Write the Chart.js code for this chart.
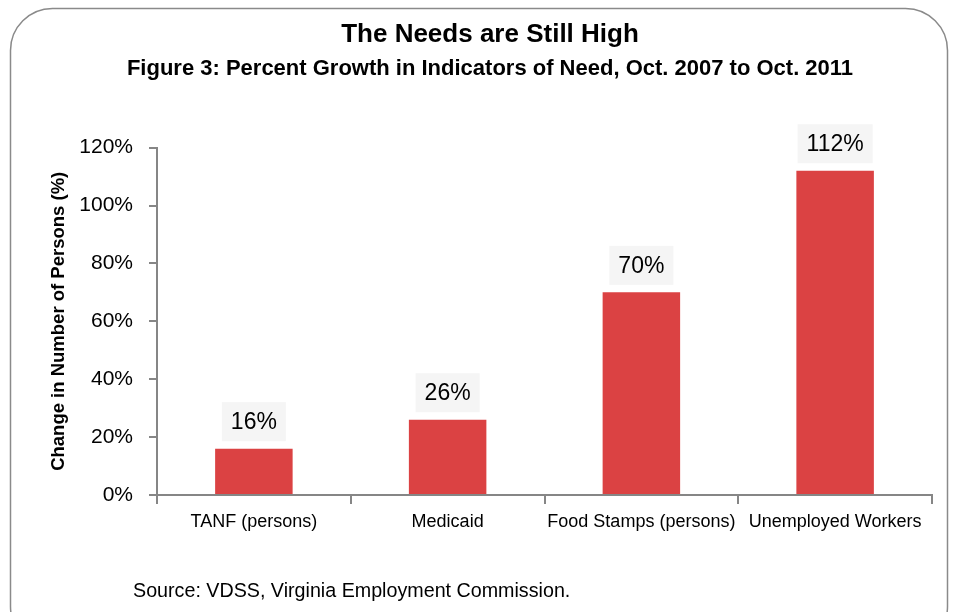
<!DOCTYPE html>
<html>
<head>
<meta charset="utf-8">
<script src="https://cdn.jsdelivr.net/npm/chart.js@4"></script>
<style>
  body { margin: 0; background: #fff; }
  #wrap { width: 956px; height: 612px; }
</style>
</head>
<body>
<div id="wrap"><canvas id="myChart" width="956" height="612"></canvas></div>
<script>
// data
var categories = ['TANF (persons)', 'Medicaid', 'Food Stamps (persons)', 'Unemployed Workers'];
var growthPct = [16, 26, 70, 112];
var yTicks = [0, 20, 40, 60, 80, 100, 120];

var narrow = "'Liberation Sans Narrow', 'Arial Narrow', 'Liberation Sans', Arial, sans-serif";
var barColor = '#DB4243';
var axisColor = '#868686';

// rounded frame behind everything + source line
const framePlugin = {
    id: 'frame',
    beforeDraw(chart) {
        const ctx = chart.ctx;
        ctx.save();
        ctx.fillStyle = '#fff';
        ctx.fillRect(0, 0, chart.width, chart.height);
        ctx.strokeStyle = '#8a8a8a';
        ctx.lineWidth = 1.5;
        ctx.beginPath();
        ctx.roundRect(10.5, 8.5, 937, 640, 42);
        ctx.stroke();
        ctx.restore();
    },
    afterDraw(chart) {
        const ctx = chart.ctx;
        ctx.save();
        ctx.fillStyle = '#000';
        ctx.font = '19.7px ' + narrow;
        ctx.textBaseline = 'middle';
        ctx.fillText('Source: VDSS, Virginia Employment Commission.', 133, 592);
        ctx.restore();
    }
};

// value labels on gray boxes above each bar
const valueLabels = {
    id: 'valueLabels',
    afterDatasetsDraw(chart) {
        const ctx = chart.ctx;
        const meta = chart.getDatasetMeta(0);
        ctx.save();
        ctx.font = '23px ' + narrow;
        ctx.textAlign = 'center';
        ctx.textBaseline = 'middle';
        meta.data.forEach(function(bar, i) {
            const txt = growthPct[i] + '%';
            const w = ctx.measureText(txt).width + 18;
            const cy = bar.y - 27;
            ctx.fillStyle = '#f5f5f5';
            ctx.fillRect(bar.x - w / 2, cy - 19.5, w, 39);
            ctx.fillStyle = '#000';
            ctx.fillText(txt, bar.x, cy + 1);
        });
        ctx.restore();
    }
};

var myChart = new Chart(document.getElementById('myChart'), {
    type: 'bar',
    data: {
        labels: categories,
        datasets: [{
            data: growthPct,
            backgroundColor: barColor,
            borderWidth: 0,
            categoryPercentage: 0.8,
            barPercentage: 0.5
        }]
    },
    options: {
        responsive: false,
        animation: false,
        layout: { padding: { left: 48, right: 24, top: 0, bottom: 0 } },
        plugins: {
            legend: { display: false },
            tooltip: { enabled: false },
            title: {
                display: true,
                text: 'The Needs are Still High',
                color: '#000',
                font: { family: narrow, size: 26, weight: 'bold', lineHeight: 1.2 },
                padding: { top: 19, bottom: 2 }
            },
            subtitle: {
                display: true,
                text: 'Figure 3: Percent Growth in Indicators of Need, Oct. 2007 to Oct. 2011',
                color: '#000',
                font: { family: narrow, size: 22, weight: 'bold', lineHeight: 1.2 },
                padding: { top: 4, bottom: 65 }
            }
        },
        scales: {
            x: {
                offset: true,
                grid: { offset: true, drawOnChartArea: false, drawTicks: true, tickLength: 9, color: axisColor, lineWidth: 2 },
                border: { display: true, color: axisColor, width: 2 },
                ticks: { color: '#000', font: { family: narrow, size: 18 }, padding: 7, maxRotation: 0, autoSkip: false },
                afterFit(scale) { scale.height = 117; }
            },
            y: {
                min: 0,
                max: 120,
                afterBuildTicks(scale) { scale.ticks = yTicks.map(v => ({ value: v })); },
                grid: { drawOnChartArea: false, drawTicks: true, tickLength: 8, color: axisColor, lineWidth: 2 },
                border: { display: true, color: axisColor, width: 2 },
                ticks: {
                    color: '#000',
                    font: { family: narrow, size: 21 },
                    padding: 16,
                    callback: v => v + '%'
                },
                title: {
                    display: true,
                    text: 'Change in Number of Persons (%)',
                    color: '#000',
                    font: { family: narrow, size: 18.5, weight: 'bold' },
                    padding: { top: 0, bottom: 0 }
                },
                afterFit(scale) { scale.width = 109; }
            }
        }
    },
    plugins: [framePlugin, valueLabels]
});
</script>
</body>
</html>
